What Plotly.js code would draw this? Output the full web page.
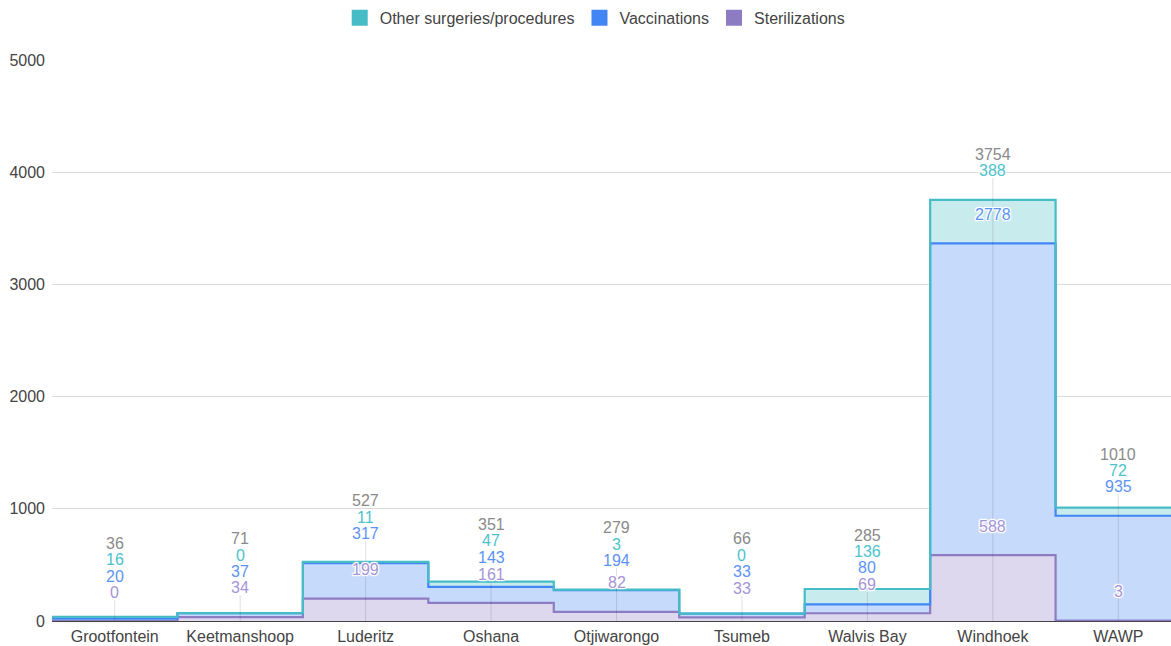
<!DOCTYPE html>
<html>
<head>
<meta charset="utf-8">
<script src="https://cdn.plot.ly/plotly-3.0.1.min.js"></script>
<style>html,body{margin:0;padding:0;background:#fff;}#chart{width:1171px;height:646px;}</style>
</head>
<body>
<div id="chart"></div>
<script>
// ---- data ----
const categories = ["Grootfontein","Keetmanshoop","Luderitz","Oshana","Otjiwarongo","Tsumeb","Walvis Bay","Windhoek","WAWP"];
const otherProcedures = [16, 0, 11, 47, 3, 0, 136, 388, 72];
const vaccinations = [20, 37, 317, 143, 194, 33, 80, 2778, 935];
const sterilizations = [0, 34, 199, 161, 82, 33, 69, 588, 3];
const totals = [36, 71, 527, 351, 279, 66, 285, 3754, 1010];
const yTicks = [0, 1000, 2000, 3000, 4000, 5000];

// ---- styling / layout config ----
const FONT = '"Liberation Sans", Arial, sans-serif';
const FS = 16;
const colOther = '#46bdc6', colVacc = '#4285f4', colSter = '#8e7cc3';
const fillOther = 'rgb(200,236,238)', fillVacc = 'rgb(198,218,252)', fillSter = 'rgb(221,216,237)';
const lblColors = ['#8a8a8a', '#4cc3cb', '#5b93f5', '#a594d6'];
// label heights above baseline in pixels: [total, other, vacc, ster]
const labelLift = [
  [78, 62, 45, 29],
  [83, 66, 50, 34],
  [121, 104, 88, 52],
  [97, 81, 64, 47],
  [94, 77, 61, 39],
  [83, 66, 50, 33],
  [86, 70, 54, 37],
  [467, 451, 407, 95],
  [167, 151, 135, 30]
];
const leaderTop = [21, 26, 80, 39, 53, 25, 29, 443, 127];

const n = categories.length;
const edges = categories.map((c, i) => i - 0.5).concat([n - 0.5]);
const stepY = arr => arr.concat([arr[arr.length - 1]]);

function areaTrace(name, vals, lineCol, fillCol) {
  return {
    type: 'scatter', mode: 'lines', name: name,
    x: edges, y: stepY(vals),
    stackgroup: 'one', fill: 'tonexty', fillcolor: fillCol,
    line: {shape: 'hv', color: lineCol, width: 2.2},
    showlegend: false, hoverinfo: 'skip'
  };
}
function legendTrace(name, col) {
  return {
    type: 'scatter', mode: 'markers', name: name, x: [null], y: [null],
    marker: {symbol: 'square', size: 16, color: col}, showlegend: true, hoverinfo: 'skip'
  };
}

const traces = [
  areaTrace('Sterilizations', sterilizations, colSter, fillSter),
  areaTrace('Vaccinations', vaccinations, colVacc, fillVacc),
  areaTrace('Other surgeries/procedures', otherProcedures, colOther, fillOther),
  legendTrace('Other surgeries/procedures', colOther),
  legendTrace('Vaccinations', colVacc),
  legendTrace('Sterilizations', colSter)
];

const halo = '1px 0 1px #fff, -1px 0 1px #fff, 0 1px 1px #fff, 0 -1px 1px #fff, 1px 1px 1px #fff, -1px -1px 1px #fff, 1px -1px 1px #fff, -1px 1px 1px #fff';
const annotations = [];
const shapes = [];
categories.forEach((c, i) => {
  const vals = [totals[i], otherProcedures[i], vaccinations[i], sterilizations[i]];
  vals.forEach((v, k) => {
    annotations.push({
      x: i, y: 0, xref: 'x', yref: 'y', yshift: labelLift[i][k],
      text: String(v), showarrow: false, xanchor: 'center', yanchor: 'middle',
      font: {family: FONT, size: FS, color: lblColors[k], shadow: halo}
    });
  });
  shapes.push({
    type: 'line', xref: 'x', yref: 'y', x0: i, x1: i,
    ysizemode: 'pixel', yanchor: 0, y0: 0, y1: leaderTop[i],
    line: {color: 'rgba(0,0,0,0.12)', width: 1}, layer: 'above'
  });
});

const layout = {
  width: 1171, height: 646,
  margin: {l: 52, r: 0, t: 60, b: 25, pad: 0},
  paper_bgcolor: '#fff', plot_bgcolor: '#fff',
  font: {family: FONT, size: FS, color: '#444'},
  showlegend: true,
  legend: {orientation: 'h', x: 0.485, xanchor: 'center', y: 1.075, yanchor: 'middle',
           font: {family: FONT, size: FS, color: '#444'}, traceorder: 'normal', itemclick: false},
  xaxis: {
    range: [-0.5, 8.42], tickmode: 'array', tickvals: categories.map((c, i) => i), ticktext: categories,
    showgrid: false, zeroline: false, showline: false, ticks: '', fixedrange: true,
    ticklabelstandoff: 4,
    tickfont: {family: FONT, size: FS, color: '#444'}
  },
  yaxis: {
    range: [0, 5000], tickmode: 'array', tickvals: yTicks, ticktext: yTicks.map(String),
    showgrid: true, gridcolor: '#dcdcdc', gridwidth: 1,
    zeroline: true, zerolinecolor: '#444', zerolinewidth: 1.5,
    showline: false, ticks: '', ticklabelstandoff: 6, fixedrange: true,
    tickfont: {family: FONT, size: FS, color: '#444'}
  },
  annotations: annotations,
  shapes: shapes,
  hovermode: false
};

Plotly.newPlot('chart', traces, layout, {displayModeBar: false, staticPlot: true});
</script>
</body>
</html>
